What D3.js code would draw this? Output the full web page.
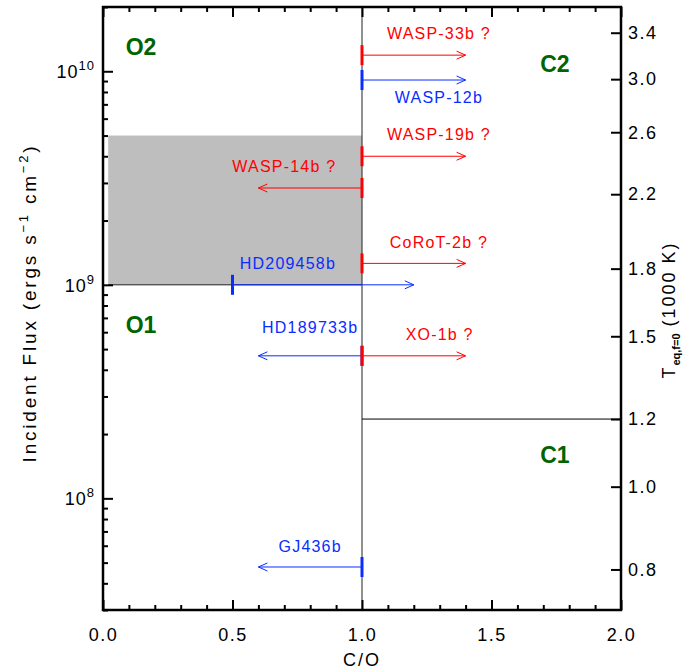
<!DOCTYPE html>
<html><head><meta charset="utf-8">
<script src="https://cdn.jsdelivr.net/npm/d3@7"></script>
<style>
body{margin:0;background:#fff;}
text{font-family:"Liberation Sans",Arial,sans-serif;}
</style></head>
<body><svg id="c" width="699" height="671"></svg>
<script>
// ---- data ----
const planets   = ["WASP-33b ?","WASP-12b","WASP-19b ?","WASP-14b ?","CoRoT-2b ?","HD209458b","HD189733b","XO-1b ?","GJ436b"];
const fluxes    = [1.19e10, 9.1e9, 4.0e9, 2.84e9, 1.26e9, 1.0e9, 4.65e8, 4.65e8, 4.77e7];
const coStart   = [1.0, 1.0, 1.0, 1.0, 1.0, 0.5, 1.0, 1.0, 1.0];
const coEnd     = [1.4, 1.4, 1.4, 0.6, 1.4, 1.2, 0.6, 1.4, 0.6];
const planetKind= ["red","blue","red","red","red","blue","blue","red","blue"];
const labelCO   = [1.297, 1.297, 1.297, 0.70, 1.297, 0.714, 0.80, 1.30, 0.80];
const labelDy   = [-22, 17, -22, -22, -21, -22, -29, -22, -21];
const regions   = ["O2","C2","O1","C1"];
const regionCO  = [0.147, 1.745, 0.147, 1.745];
const regionF   = [1.3e10, 1.08e10, 6.5e8, 1.6e8];
const xMajor    = [0.0, 0.5, 1.0, 1.5, 2.0];
const tempTicks = [0.8, 1.0, 1.2, 1.5, 1.8, 2.2, 2.6, 3.0, 3.4]; // 1000 K
const fluxDecades = [1e8, 1e9, 1e10];
const shadeCO = [0.02, 1.0], shadeF = [1e9, 5e9];
const boundaryT = 1.2; // C1/C2 boundary temperature (1000 K)

// ---- setup ----
const W=699,H=671, L=103,R=621,T=7,B=610;
const svg=d3.select("#c");
const x=d3.scaleLinear().domain([0,2]).range([L,R]);
const y=d3.scaleLog().domain([3.0e7,2.0e10]).range([B,T]);
const sigma=5.6704e-5;
const tToF = t => 2*sigma*Math.pow(t*1000,4);
const colors={red:"#ff0000",blue:"#0a2dff"};
const green="#006400";

// shaded box
svg.append("rect").attr("x",x(shadeCO[0])).attr("y",y(shadeF[1]))
  .attr("width",x(shadeCO[1])-x(shadeCO[0])).attr("height",y(shadeF[0])-y(shadeF[1]))
  .attr("fill","#bebebe");
// boundary lines
svg.append("line").attr("x1",x(shadeCO[0])).attr("x2",x(1)).attr("y1",y(1e9)).attr("y2",y(1e9))
  .attr("stroke","#222").attr("stroke-width",1);
svg.append("line").attr("x1",x(1)).attr("x2",x(1)).attr("y1",T).attr("y2",B)
  .attr("stroke","#222").attr("stroke-width",1);
svg.append("line").attr("x1",x(1)).attr("x2",x(2)).attr("y1",y(tToF(boundaryT))).attr("y2",y(tToF(boundaryT)))
  .attr("stroke","#000").attr("stroke-width",1);

// planets
planets.forEach((p,i)=>{
  const c=colors[planetKind[i]];
  const yy=y(fluxes[i]), x0=x(coStart[i]), x1=x(coEnd[i]);
  const g=svg.append("g");
  g.append("line").attr("x1",x0).attr("x2",x1).attr("y1",yy).attr("y2",yy).attr("stroke",c).attr("stroke-width",1);
  const dir = x1>x0 ? 1 : -1;
  g.append("path").attr("d",`M${x1-dir*9},${yy-4}L${x1},${yy}L${x1-dir*9},${yy+4}`)
   .attr("fill","none").attr("stroke",c).attr("stroke-width",1);
  g.append("line").attr("x1",x0).attr("x2",x0).attr("y1",yy-10).attr("y2",yy+10).attr("stroke",c).attr("stroke-width",3);
  g.append("text").attr("x",x(labelCO[i])).attr("y",yy+labelDy[i]).attr("dy","0.36em")
   .attr("text-anchor","middle").attr("fill",c).attr("font-size",16).attr("letter-spacing","1.2px").text(p);
});

// region labels
regions.forEach((r,i)=>{
  svg.append("text").attr("x",x(regionCO[i])).attr("y",y(regionF[i])).attr("dy","0.36em")
   .attr("text-anchor","middle").attr("fill",green).attr("font-weight","bold").attr("font-size",23).text(r);
});

// axes
const xMinor=d3.range(0,2.0001,0.1).map(v=>+v.toFixed(1)).filter(v=>!xMajor.includes(v));
const axStyle=g=>{g.select(".domain").remove();g.selectAll("line").attr("stroke","#000").attr("stroke-width",2);
  g.selectAll("text").attr("font-size",18).attr("letter-spacing","1.5px").attr("fill","#000").attr("font-family","Liberation Sans, Arial, sans-serif");};
svg.append("g").attr("transform",`translate(0,${B})`).call(d3.axisBottom(x).tickValues(xMajor).tickSize(-10).tickPadding(18).tickFormat(d3.format(".1f"))).call(axStyle);
svg.append("g").attr("transform",`translate(0,${B})`).call(d3.axisBottom(x).tickValues(xMinor).tickSize(-5).tickFormat("")).call(axStyle);
svg.append("g").attr("transform",`translate(0,${T})`).call(d3.axisTop(x).tickValues(xMajor).tickSize(-10).tickFormat("")).call(axStyle);
svg.append("g").attr("transform",`translate(0,${T})`).call(d3.axisTop(x).tickValues(xMinor).tickSize(-5).tickFormat("")).call(axStyle);

const yMinor=[];
[1e7,1e8,1e9,1e10].forEach(d=>{for(let k=2;k<=9;k++){const v=d*k; if(v>=3e7&&v<=2e10) yMinor.push(v);}});
svg.append("g").attr("transform",`translate(${L},0)`).call(d3.axisLeft(y).tickValues(fluxDecades).tickSize(-10).tickFormat("")).call(axStyle);
svg.append("g").attr("transform",`translate(${L},0)`).call(d3.axisLeft(y).tickValues(yMinor).tickSize(-5).tickFormat("")).call(axStyle);
fluxDecades.forEach(v=>{
  const t=svg.append("text").attr("x",L-8).attr("y",y(v)+7).attr("text-anchor","end").attr("font-size",18).attr("letter-spacing","1px");
  t.append("tspan").text("10");
  t.append("tspan").attr("dy",-8).attr("font-size",13).text(Math.round(Math.log10(v)));
});

svg.append("g").attr("transform",`translate(${R},0)`)
  .call(d3.axisRight(y).tickValues(tempTicks.map(tToF)).tickSize(-10).tickPadding(7)
  .tickFormat((d,i)=>tempTicks[i].toFixed(1))).call(axStyle);

// frame
svg.append("rect").attr("x",L).attr("y",T).attr("width",R-L).attr("height",B-T)
  .attr("fill","none").attr("stroke","#000").attr("stroke-width",2.5);

// axis titles
svg.append("text").attr("x",x(1)).attr("y",666).attr("text-anchor","middle").attr("font-size",18).attr("letter-spacing","2px").text("C/O");
const yl=svg.append("text").attr("transform",`translate(36,${303}) rotate(-90)`).attr("text-anchor","middle")
  .attr("font-size",19).attr("letter-spacing","2.8px");
yl.append("tspan").text("Incident Flux (ergs s");
yl.append("tspan").attr("dy",-8).attr("font-size",13).text("−1");
yl.append("tspan").attr("dy",8).text(" cm");
yl.append("tspan").attr("dy",-8).attr("font-size",13).text("−2");
yl.append("tspan").attr("dy",8).text(")");
const rl=svg.append("text").attr("transform",`translate(675,${310}) rotate(-90)`).attr("text-anchor","middle")
  .attr("font-size",18).attr("letter-spacing","2px");
rl.append("tspan").text("T");
rl.append("tspan").attr("dy",5).attr("font-size",11).attr("font-weight","bold").attr("letter-spacing","0px").text("eq,f=0");
rl.append("tspan").attr("dy",-5).text("  (1000 K)");
</script></body></html>
